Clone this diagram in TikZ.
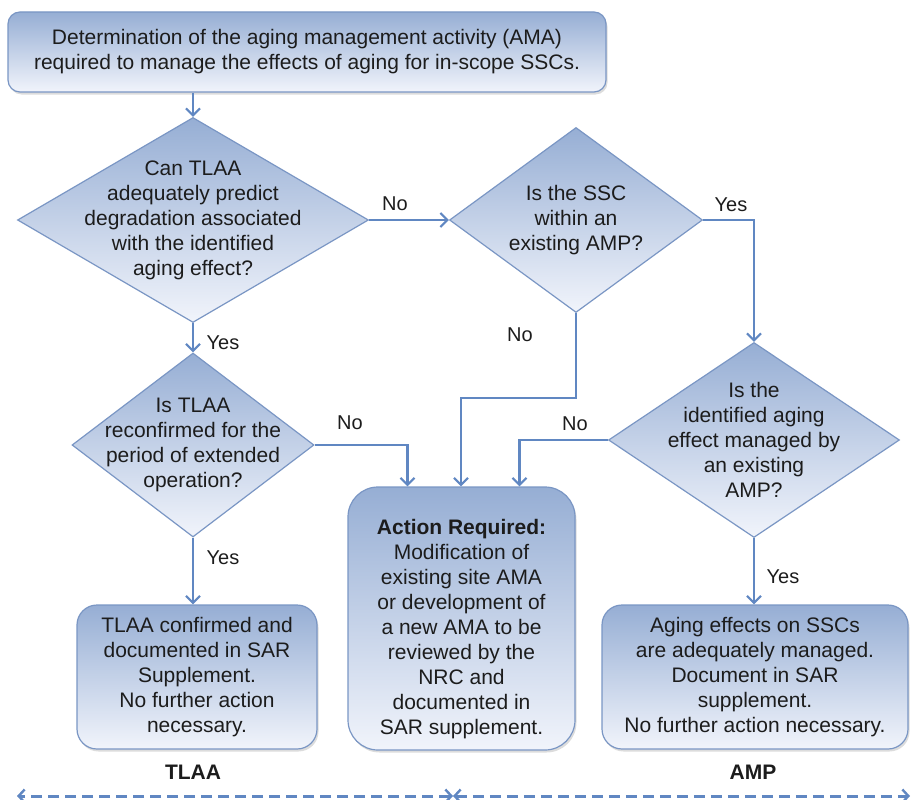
\documentclass[tikz,border=0pt]{standalone}
\usepackage{fontspec}
\setmainfont{Liberation Sans}
\usetikzlibrary{shapes.geometric,arrows.meta,shadows}

\definecolor{linec}{RGB}{96,135,194}
\definecolor{edgec}{RGB}{122,150,196}
\definecolor{filltop}{RGB}{150,174,212}
\definecolor{fillbot}{RGB}{241,244,251}
\definecolor{txtc}{RGB}{28,28,28}

\tikzset{
  x=1pt, y=-1pt,
  basefill/.style={draw=edgec, line width=1.2pt, top color=filltop, bottom color=fillbot,
    text=txtc, font=\fontsize{21}{25}\selectfont, align=center, inner sep=0pt},
  box/.style={basefill, rectangle, rounded corners=#1,
    drop shadow={opacity=0.28, shadow xshift=1.5pt, shadow yshift=-2.5pt}},
  dia/.style={basefill, diamond},
  qtext/.style={text=txtc, font=\fontsize{21}{25}\selectfont, align=center, inner sep=0pt},
  flow/.style={draw=linec, line width=2.4pt, -{Straight Barb[length=7pt,width=14pt,line width=2.2pt]}},
  lbl/.style={text=txtc, font=\fontsize{20}{24}\selectfont, inner sep=0pt},
  cat/.style={text=txtc, font=\fontsize{21}{25}\selectfont\bfseries, inner sep=0pt},
  span/.style={draw=linec, line width=3pt, dash pattern=on 11pt off 6pt,
    {Straight Barb[length=6pt,width=13pt,line width=2.4pt]}-{Straight Barb[length=6pt,width=13pt,line width=2.4pt]}}
}

\begin{document}
\begin{tikzpicture}
\useasboundingbox (0,0) rectangle (918,800);

% start box
\node[box=12pt, minimum width=598pt, minimum height=80pt] (start) at (307,52)
  {Determination of the aging management activity (AMA)\\required to manage the effects of aging for in-scope SSCs.};

% decisions
\node[dia, minimum width=351pt, minimum height=205pt] (d1) at (193,220) {};
\node[qtext] (t1) at (d1) {Can TLAA\\adequately predict\\degradation associated\\with the identified\\aging effect?};

\node[dia, minimum width=253pt, minimum height=185pt] (d2) at (576,220) {};
\node[qtext] (t2) at (d2) {Is the SSC\\within an\\existing AMP?};

\node[dia, minimum width=291pt, minimum height=195pt] (d3) at (754,440) {};
\node[qtext] (t3) at (d3) {Is the\\identified aging\\effect managed by\\an existing\\AMP?};

\node[dia, minimum width=242pt, minimum height=184pt] (d4) at (193,445) {};
\node[qtext] (t4) at (d4) {Is TLAA\\reconfirmed for the\\period of extended\\operation?};

% outcomes
\node[box=30pt, minimum width=227pt, minimum height=263pt] (act) at (461.5,618.5) {};
\node[qtext] (tact) at ([yshift=-11pt]act.center)
  {\textbf{Action Required:}\\Modification of\\existing site AMA\\or development of\\a new AMA to be\\reviewed by the\\NRC and\\documented in\\SAR supplement.};

\node[box=20pt, minimum width=240pt, minimum height=144pt] (tlaa) at (197,677)
  {TLAA confirmed and\\documented in SAR\\Supplement.\\No further action\\necessary.};

\node[box=20pt, minimum width=306pt, minimum height=144pt] (amp) at (755,677)
  {Aging effects on SSCs\\are adequately managed.\\Document in SAR\\supplement.\\No further action necessary.};

% connectors
\draw[flow] (d1.north |- start.south) -- (d1.north);
\draw[flow] (d1.east) -- (d2.west);
\draw[flow] (d2.east) -| (d3.north);
\draw[flow] (d1.south) -- (d4.north);
\coordinate (j2) at (461,398);
\draw[flow] (d2.south) |- (j2) -- (j2 |- act.north);
\draw[flow] (d4.east) -| ([xshift=-54pt]act.north);
\draw[flow] (d3.west) -| ([xshift=58pt]act.north);
\draw[flow] (d4.south) -- (d4.south |- tlaa.north);
\draw[flow] (d3.south) -- (d3.south |- amp.north);

% branch labels
\node[lbl] (n1) at (395,204) {No};
\node[lbl] (y2) at (731,205) {Yes};
\node[lbl] (n2) at (520,335) {No};
\node[lbl] (y1) at (223,343) {Yes};
\node[lbl] (n4) at (350,423) {No};
\node[lbl] (n3) at (575,424) {No};
\node[lbl] (y4) at (223,558) {Yes};
\node[lbl] (y3) at (783,577) {Yes};

% category span
\node[cat] (ctlaa) at (193,772) {TLAA};
\node[cat] (camp) at (753,772) {AMP};
\coordinate (s0) at (17,796);
\coordinate (s1) at (453,796);
\coordinate (s2) at (910,796);
\draw[span] (s1) -- (s0);
\draw[span] (s1) -- (s2);
\end{tikzpicture}
\end{document}
